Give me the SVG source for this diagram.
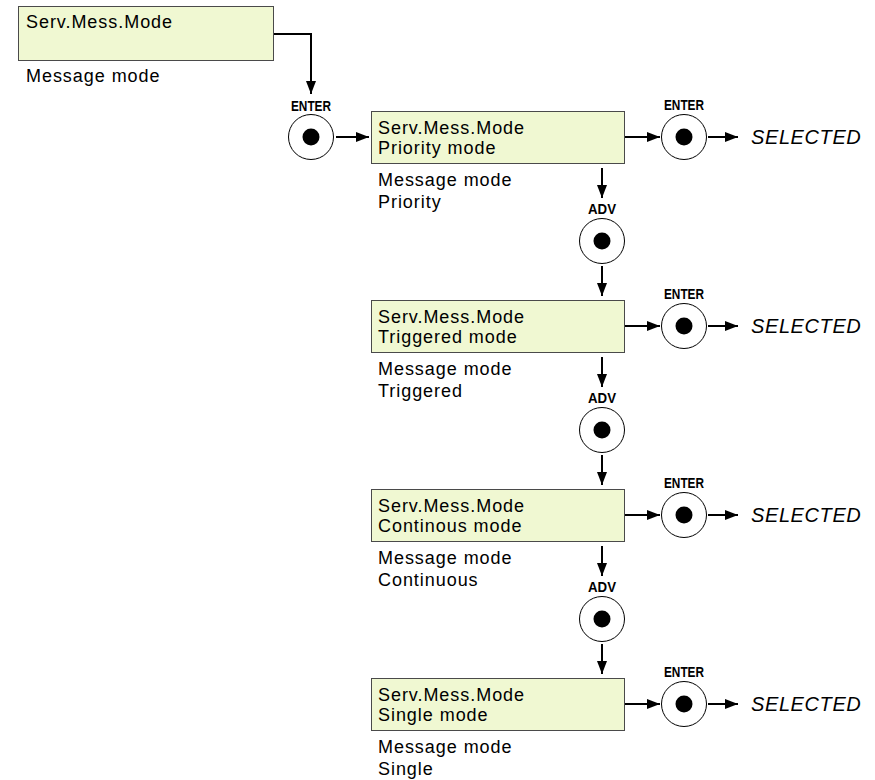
<svg xmlns="http://www.w3.org/2000/svg" width="875" height="780" viewBox="0 0 875 780">
  <style>
    .box { fill: #f0f8d2; stroke: #4a4a4a; stroke-width: 1; }
    .txt { font-family: "Liberation Sans", Arial, sans-serif; font-size: 18px; letter-spacing: 0.95px; fill: #000; }
    .sel { font-family: "Liberation Sans", Arial, sans-serif; font-size: 20px; letter-spacing: 0.6px; font-style: italic; fill: #000; }
    .key { font-family: "Liberation Sans", Arial, sans-serif; font-size: 15px; font-weight: bold; fill: #000; }
    .ring { fill: #fff; stroke: #000; stroke-width: 1; }
    .dot { fill: #000; }
    .wire { fill: none; stroke: #000; stroke-width: 2; }
  </style>
  <defs>
    <marker id="arrow" viewBox="0 0 13 10" refX="13" refY="5" markerWidth="13" markerHeight="10" markerUnits="userSpaceOnUse" orient="auto">
      <path d="M0,0 L13,5 L0,10 Z" fill="#000"/>
    </marker>
    <g id="button">
      <circle class="ring" r="22.5"/>
      <circle class="dot" r="8.5"/>
    </g>
  </defs>

  <!-- menu entry -->
  <g id="node-root">
    <rect class="box" x="18.5" y="6.5" width="255" height="54"/>
    <text class="txt" x="26" y="28">Serv.Mess.Mode</text>
    <text class="txt" x="26" y="82">Message mode</text>
  </g>

  <!-- enter key into the submenu -->
  <g id="node-enter0">
    <text class="key" x="311" y="111" text-anchor="middle" textLength="40" lengthAdjust="spacingAndGlyphs">ENTER</text>
    <use href="#button" x="311" y="137"/>
  </g>

  <!-- submenu options -->
  <g id="node-priority">
    <rect class="box" x="371.5" y="111.5" width="253" height="52"/>
    <text class="txt" x="378" y="134">Serv.Mess.Mode</text>
    <text class="txt" x="378" y="154">Priority mode</text>
    <text class="txt" x="378" y="186">Message mode</text>
    <text class="txt" x="378" y="208">Priority</text>
  </g>
  <g id="node-triggered">
    <rect class="box" x="371.5" y="300.5" width="253" height="52"/>
    <text class="txt" x="378" y="323">Serv.Mess.Mode</text>
    <text class="txt" x="378" y="343">Triggered mode</text>
    <text class="txt" x="378" y="375">Message mode</text>
    <text class="txt" x="378" y="397">Triggered</text>
  </g>
  <g id="node-continous">
    <rect class="box" x="371.5" y="489.5" width="253" height="52"/>
    <text class="txt" x="378" y="512">Serv.Mess.Mode</text>
    <text class="txt" x="378" y="532">Continous mode</text>
    <text class="txt" x="378" y="564">Message mode</text>
    <text class="txt" x="378" y="586">Continuous</text>
  </g>
  <g id="node-single">
    <rect class="box" x="371.5" y="678.5" width="253" height="52"/>
    <text class="txt" x="378" y="701">Serv.Mess.Mode</text>
    <text class="txt" x="378" y="721">Single mode</text>
    <text class="txt" x="378" y="753">Message mode</text>
    <text class="txt" x="378" y="775">Single</text>
  </g>

  <!-- advance keys -->
  <g id="node-adv1">
    <text class="key" x="602" y="214" text-anchor="middle" textLength="28" lengthAdjust="spacingAndGlyphs">ADV</text>
    <use href="#button" x="602" y="241"/>
  </g>
  <g id="node-adv2">
    <text class="key" x="602" y="403" text-anchor="middle" textLength="28" lengthAdjust="spacingAndGlyphs">ADV</text>
    <use href="#button" x="602" y="430"/>
  </g>
  <g id="node-adv3">
    <text class="key" x="602" y="592" text-anchor="middle" textLength="28" lengthAdjust="spacingAndGlyphs">ADV</text>
    <use href="#button" x="602" y="619"/>
  </g>

  <!-- confirm keys -->
  <g id="node-enter1">
    <text class="key" x="684" y="110" text-anchor="middle" textLength="40" lengthAdjust="spacingAndGlyphs">ENTER</text>
    <use href="#button" x="684" y="137"/>
  </g>
  <g id="node-enter2">
    <text class="key" x="684" y="299" text-anchor="middle" textLength="40" lengthAdjust="spacingAndGlyphs">ENTER</text>
    <use href="#button" x="684" y="326"/>
  </g>
  <g id="node-enter3">
    <text class="key" x="684" y="488" text-anchor="middle" textLength="40" lengthAdjust="spacingAndGlyphs">ENTER</text>
    <use href="#button" x="684" y="515"/>
  </g>
  <g id="node-enter4">
    <text class="key" x="684" y="677" text-anchor="middle" textLength="40" lengthAdjust="spacingAndGlyphs">ENTER</text>
    <use href="#button" x="684" y="704"/>
  </g>

  <!-- results -->
  <g id="node-selected1"><text class="sel" x="751" y="144">SELECTED</text></g>
  <g id="node-selected2"><text class="sel" x="751" y="333">SELECTED</text></g>
  <g id="node-selected3"><text class="sel" x="751" y="522">SELECTED</text></g>
  <g id="node-selected4"><text class="sel" x="751" y="711">SELECTED</text></g>

  <!-- connectors -->
  <g id="connectors" class="wire" marker-end="url(#arrow)">
    <path d="M274,34 H311 V94"/>
    <path d="M336,137 H369"/>

    <path d="M625,137 H660"/>
    <path d="M708,137 H738"/>
    <path d="M625,326 H660"/>
    <path d="M708,326 H738"/>
    <path d="M625,515 H660"/>
    <path d="M708,515 H738"/>
    <path d="M625,704 H660"/>
    <path d="M708,704 H738"/>

    <path d="M602,168 V198"/>
    <path d="M602,266 V296"/>
    <path d="M602,357 V387"/>
    <path d="M602,455 V485"/>
    <path d="M602,546 V576"/>
    <path d="M602,644 V674"/>
  </g>
</svg>
